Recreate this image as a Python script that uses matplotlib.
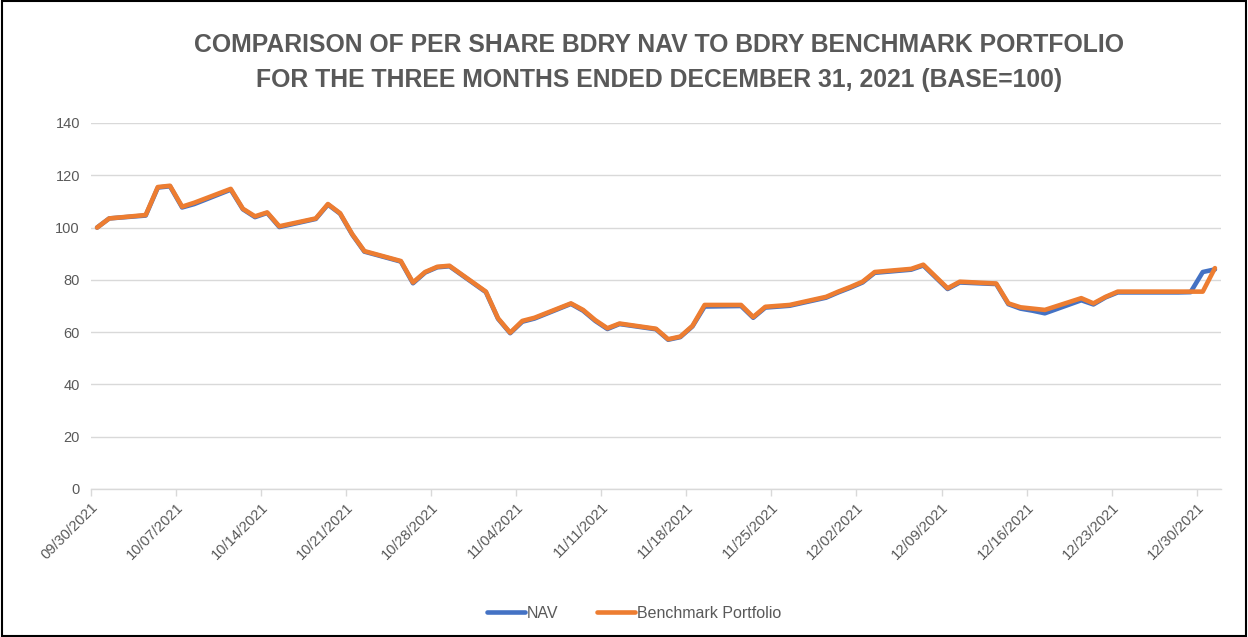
import matplotlib
matplotlib.use("Agg")
import matplotlib.pyplot as plt
import matplotlib.dates as mdates
from matplotlib.patches import Rectangle
import datetime as dt

dates = ["2021-09-30", "2021-10-01", "2021-10-04", "2021-10-05", "2021-10-06", "2021-10-07", "2021-10-08",
         "2021-10-11", "2021-10-12", "2021-10-13", "2021-10-14", "2021-10-15",
         "2021-10-18", "2021-10-19", "2021-10-20", "2021-10-21", "2021-10-22",
         "2021-10-25", "2021-10-26", "2021-10-27", "2021-10-28", "2021-10-29",
         "2021-11-01", "2021-11-02", "2021-11-03", "2021-11-04", "2021-11-05",
         "2021-11-08", "2021-11-09", "2021-11-10", "2021-11-11", "2021-11-12",
         "2021-11-15", "2021-11-16", "2021-11-17", "2021-11-18", "2021-11-19",
         "2021-11-22", "2021-11-23", "2021-11-24", "2021-11-26",
         "2021-11-29", "2021-11-30", "2021-12-01", "2021-12-02", "2021-12-03",
         "2021-12-06", "2021-12-07", "2021-12-08", "2021-12-09", "2021-12-10",
         "2021-12-13", "2021-12-14", "2021-12-15", "2021-12-16", "2021-12-17",
         "2021-12-20", "2021-12-21", "2021-12-22", "2021-12-23",
         "2021-12-27", "2021-12-28", "2021-12-29", "2021-12-30", "2021-12-31"]

nav = [100, 103.5, 104.6, 115.3, 115.8, 107.7, 109.0,
       114.5, 107.0, 104.0, 105.6, 100.2,
       103.3, 108.8, 105.3, 97.3, 90.8,
       87.0, 78.7, 82.8, 84.8, 85.2,
       75.3, 65.1, 59.6, 64.0, 65.2,
       70.8, 68.2, 64.3, 61.2, 63.1,
       61.1, 57.1, 58.1, 62.2, 69.8,
       70.0, 65.5, 69.4, 70.1,
       73.2, 75.2, 77.0, 79.0, 82.7,
       83.9, 85.5, 81.0, 76.5, 79.0,
       78.4, 70.7, 69.0, 68.2, 67.2,
       72.2, 70.6, 73.3, 75.2,
       75.2, 75.2, 75.3, 83.0, 84.0]

benchmark = [100, 103.5, 104.8, 115.5, 116.0, 108.0, 109.5,
             114.8, 107.2, 104.3, 105.8, 100.5,
             103.5, 109.0, 105.5, 97.5, 91.0,
             87.2, 79.0, 83.0, 85.0, 85.4,
             75.5, 65.3, 59.8, 64.3, 65.5,
             71.0, 68.5, 64.6, 61.5, 63.3,
             61.3, 57.3, 58.3, 62.4, 70.4,
             70.4, 65.8, 69.7, 70.4,
             73.5, 75.5, 77.3, 79.3, 83.0,
             84.2, 85.8, 81.3, 76.8, 79.3,
             78.6, 71.0, 69.5, 69.0, 68.5,
             73.0, 71.0, 73.5, 75.5,
             75.5, 75.5, 75.5, 75.5, 84.5]

title_lines = ["COMPARISON OF PER SHARE BDRY NAV TO BDRY BENCHMARK PORTFOLIO",
               "FOR THE THREE MONTHS ENDED DECEMBER 31, 2021 (BASE=100)"]
series_names = ["NAV", "Benchmark Portfolio"]
y_ticks = [0, 20, 40, 60, 80, 100, 120, 140]

plt.rcParams['font.family'] = ['Liberation Sans', 'DejaVu Sans']
TXT = "#595959"
GRID = "#D9D9D9"

# Excel date axis: each date occupies a one-day slot, point drawn at the slot centre
half_day = dt.timedelta(hours=12)
x = [dt.datetime.strptime(d, "%Y-%m-%d") + half_day for d in dates]

fig = plt.figure(figsize=(12.48, 6.37), dpi=100)
ax = fig.add_axes([91/1248, 1-489/637, (1221-91)/1248, (489-123)/637])

ax.plot(x, nav, color="#4472C4", lw=3.3, solid_joinstyle="round", solid_capstyle="round",
        label=series_names[0], zorder=3)
ax.plot(x, benchmark, color="#ED7D31", lw=3.3, solid_joinstyle="round", solid_capstyle="round",
        label=series_names[1], zorder=4)

start = dt.datetime(2021, 9, 30)
ax.set_xlim(start, start + dt.timedelta(days=93))
ax.set_ylim(0, 140)
ax.set_yticks(y_ticks)
ax.yaxis.grid(True, color=GRID, lw=1.0)
ax.set_axisbelow(True)

ticks = [start + dt.timedelta(days=7*i) for i in range(14)]
ax.set_xticks(ticks)
ax.xaxis.set_major_formatter(mdates.DateFormatter("%m/%d/%Y"))
for lab in ax.get_xticklabels():
    lab.set_rotation(45)
    lab.set_ha("right")
    lab.set_rotation_mode("anchor")

for s in ["top", "right", "left"]:
    ax.spines[s].set_visible(False)
ax.spines["bottom"].set_color(GRID)
ax.spines["bottom"].set_linewidth(1.0)
ax.tick_params(axis="x", colors=GRID, length=5, width=1, labelcolor=TXT, labelsize=10.5, pad=3)
ax.tick_params(axis="y", length=0, labelcolor=TXT, labelsize=10.5, pad=8)

fig.text(0.5284, 1-45/637, title_lines[0], ha="center", va="center", fontsize=17.8,
         fontweight="bold", color=TXT)
fig.text(0.5284, 1-80/637, title_lines[1], ha="center", va="center", fontsize=17.8,
         fontweight="bold", color=TXT)

leg = fig.legend(loc="center", bbox_to_anchor=(0.508, 1-613/637), ncol=2, frameon=False,
                 handlelength=2.4, handletextpad=0.1, columnspacing=2.4, fontsize=11.5)
for t in leg.get_texts():
    t.set_color(TXT)
for h in leg.get_lines():
    h.set_linewidth(3.3)

fig.patches.append(Rectangle((0.002, 0.002), 0.996, 0.996, transform=fig.transFigure,
                             fill=False, edgecolor="black", lw=1.5))

fig.savefig("out.png", dpi=100)
